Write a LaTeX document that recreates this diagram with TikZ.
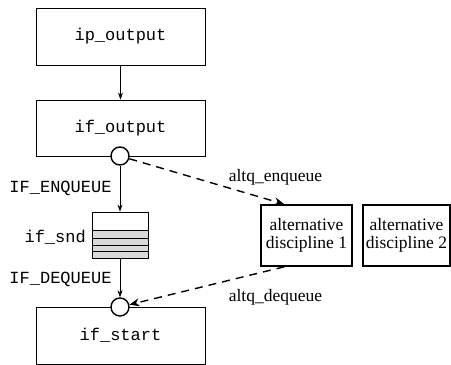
\documentclass[tikz,border=0pt]{standalone}
\usepackage{fontspec}
\setmainfont{Liberation Serif}
\setmonofont{Liberation Mono}
\usetikzlibrary{arrows.meta,calc}
\begin{document}
\begin{tikzpicture}[x=1pt,y=-1pt,
  box/.style={draw,line width=0.8pt,minimum width=169pt,minimum height=57pt,inner sep=0pt,
              font=\fontsize{17}{18}\selectfont\ttfamily},
  altbox/.style={draw,line width=1.6pt,minimum height=61pt,inner sep=0pt,align=center,
              font=\fontsize{17.5}{17.5}\selectfont},
  port/.style={circle,draw,fill=white,line width=1.4pt,minimum size=18pt,inner sep=0pt},
  lbl/.style={inner sep=0pt,font=\fontsize{17}{18}\selectfont\ttfamily},
  serlbl/.style={inner sep=0pt,font=\fontsize{17.5}{18}\selectfont},
  flow/.style={line width=0.8pt,-{Stealth[length=7pt,width=5pt]}},
  altflow/.style={line width=1.4pt,dash pattern=on 8pt off 6pt,-{Stealth[length=10pt,width=8pt]}},
  slot/.style={line width=0.8pt}
]
\useasboundingbox (0,0) rectangle (451,365);

% kernel functions
\node[box] (ip)  at (120.5,36.5) {ip\_output};
\node[box,minimum height=56pt] (ifo) at (120.5,128) {if\_output};
\node[box] (ifs) at (120.5,335.5) {if\_start};

% send queue with occupied slots
\node[draw,line width=0.8pt,minimum width=56pt,minimum height=46pt,inner sep=0pt] (q) at (120,235) {};
\fill[gray!30] (92,230) rectangle (148,258);
\foreach \yy in {230,238,245,251.5}
  \draw[slot] (92,\yy) -- (148,\yy);
\draw[line width=0.8pt] (92,212) rectangle (148,258);
\node[lbl,anchor=east] (snd) at (86,237) {if\_snd};

% hook points
\node[port] (c1) at (120,156) {};
\node[port] (c2) at (120,307) {};

% queueing disciplines
\node[altbox,minimum width=91pt] (alt1) at (306.5,235.5) {alternative\\discipline 1};
\node[altbox,minimum width=87pt] (alt2) at (406.5,235.5) {alternative\\discipline 2};

% default path
\draw[flow] (ip) -- (ifo);
\draw[flow] (c1) -- (q.north);
\draw[flow] (q.south) -- (c2);
\node[lbl] (enq) at (60.5,188) {IF\_ENQUEUE};
\node[lbl] (deq) at (60.5,279) {IF\_DEQUEUE};

% alternate path
\coordinate (a1top) at ($(alt1.north west)!0.26!(alt1.north east)$);
\coordinate (a1bot) at ($(alt1.south west)!0.26!(alt1.south east)$);
\draw[altflow] (c1) -- (a1top);
\draw[altflow] (a1bot) -- (c2);
\node[serlbl] (aenq) at (275.5,177) {altq\_enqueue};
\node[serlbl] (adeq) at (275.5,297) {altq\_dequeue};
\end{tikzpicture}
\end{document}
